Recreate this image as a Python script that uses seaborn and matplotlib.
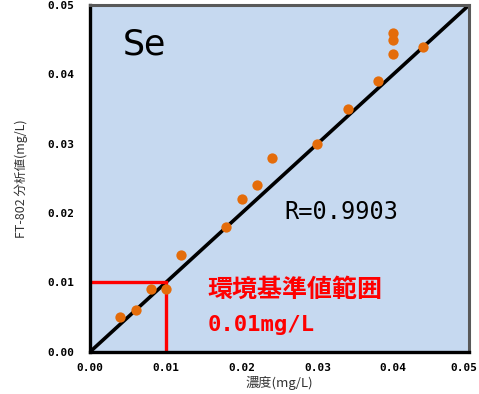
import matplotlib
matplotlib.use("Agg")
import matplotlib.pyplot as plt
import matplotlib.transforms as mtransforms
import pandas as pd
import seaborn as sns

# standard concentration (mg/L) vs FT-802 measured value (mg/L)
conc = [0.004, 0.006, 0.008, 0.010, 0.012, 0.018, 0.020, 0.022, 0.024,
        0.030, 0.034, 0.038, 0.040, 0.040, 0.040, 0.044]
measured = [0.005, 0.006, 0.009, 0.009, 0.014, 0.018, 0.022, 0.024, 0.028,
            0.030, 0.035, 0.039, 0.043, 0.045, 0.046, 0.044]
diag = [0.0, 0.05]
limit = 0.010
ticks = [0.00, 0.01, 0.02, 0.03, 0.04, 0.05]
tick_labels = ["0.00", "0.01", "0.02", "0.03", "0.04", "0.05"]

sns.set_style("white")
plt.rcParams["font.family"] = ["DejaVu Sans Mono", "Noto Sans CJK JP"]
plt.rcParams["text.color"] = "black"
plt.rcParams["xtick.color"] = "black"
plt.rcParams["ytick.color"] = "black"

df = pd.DataFrame({"conc": conc, "measured": measured})

fig = plt.figure(figsize=(4.79, 3.94), dpi=100)
ax = fig.add_axes([0.188, 0.107, 0.791, 0.880])
ax.set_facecolor("#C6D9F0")

# 1:1 line
sns.lineplot(x=diag, y=diag, ax=ax, color="black", linewidth=2.6, zorder=2)
# environmental standard box
ax.plot([0, limit, limit], [limit, limit, 0], color="#FF0000", linewidth=2.4,
        zorder=2, solid_joinstyle="miter")
sns.scatterplot(data=df, x="conc", y="measured", ax=ax, color="#E46C0A",
                s=55, linewidth=0, zorder=3)

ax.set_xlim(0, 0.05)
ax.set_ylim(0, 0.05)
ax.set_xticks(ticks)
ax.set_yticks(ticks)
ax.set_xticklabels(tick_labels, fontsize=8, fontweight="bold")
ax.set_yticklabels(tick_labels, fontsize=8, fontweight="bold")
ax.tick_params(axis="both", direction="in", length=4, width=2, color="black")
ax.tick_params(axis="x", pad=8)
ax.tick_params(axis="y", pad=11)

# last x label sits against the figure edge, nudge it in a little
last = ax.get_xticklabels()[-1]
last.set_transform(last.get_transform()
                   + mtransforms.ScaledTranslation(-5 / 100, 0, fig.dpi_scale_trans))

for side in ["left", "bottom"]:
    ax.spines[side].set_color("black")
    ax.spines[side].set_linewidth(2.4)
for side in ["top", "right"]:
    ax.spines[side].set_color("#595959")
    ax.spines[side].set_linewidth(2.2)

ax.set_xlabel("濃度(mg/L)", fontsize=9.5, color="#333333",
              family=["Noto Sans CJK JP"], labelpad=2)
ax.set_ylabel("FT-802 分析値(mg/L)", fontsize=9, color="#333333",
              family=["Noto Sans CJK JP"], labelpad=14)

ax.text(0.085, 0.885, "Se", transform=ax.transAxes, fontsize=25,
        family=["DejaVu Sans"], va="center", ha="left")
ax.text(0.512, 0.403, "R=0.9903", transform=ax.transAxes, fontsize=17,
        va="center", ha="left")
ax.text(0.309, 0.179, "環境基準値範囲", transform=ax.transAxes, fontsize=18,
        color="#FF0000", fontweight="bold", family=["Noto Sans CJK JP"],
        va="center", ha="left")
ax.text(0.309, 0.078, "0.01mg/L", transform=ax.transAxes, fontsize=16,
        color="#FF0000", fontweight="bold", va="center", ha="left")

fig.savefig("out.png", dpi=100)
